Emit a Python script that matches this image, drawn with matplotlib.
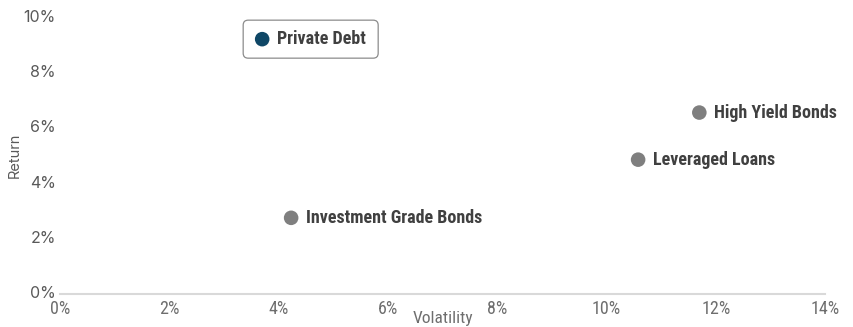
import matplotlib
matplotlib.use("Agg")
import matplotlib.pyplot as plt
import matplotlib.transforms as mtransforms
from matplotlib.patches import FancyBboxPatch
from matplotlib.ticker import FuncFormatter

names = ["Private Debt", "High Yield Bonds", "Leveraged Loans", "Investment Grade Bonds"]
volatility = [3.7, 11.7, 10.58, 4.23]
returns = [9.2, 6.55, 4.85, 2.75]
colors = ["#0f4766", "#7f7f7f", "#7f7f7f", "#7f7f7f"]

narrow = ["Roboto Condensed", "Archivo Narrow", "Sofia Sans Condensed", "DejaVu Sans"]

fig = plt.figure(figsize=(8.54, 3.27), dpi=100)
ax = fig.add_axes([60 / 854, 33 / 327, 765 / 854, 277 / 327])

ax.scatter(volatility, returns, s=110, c=colors, zorder=3, linewidths=0)
for n, x, y in zip(names, volatility, returns):
    ax.annotate(n, (x, y), xytext=(10.5, 0), textcoords="offset points",
                ha="left", va="center", fontsize=13, fontweight="bold",
                color="#404040", family=narrow)

# rounded frame around the highlighted point
tr = mtransforms.IdentityTransform() + mtransforms.ScaledTranslation(
    volatility[0], returns[0], ax.transData)
box = FancyBboxPatch((-16, -16), 129, 32, boxstyle="round,pad=3,rounding_size=5",
                     transform=tr, facecolor="none", edgecolor="#8c8c8c", lw=0.9, zorder=2)
ax.add_patch(box)

ax.set_xlim(0, 14)
ax.set_ylim(0, 10)
ax.set_xticks(range(0, 15, 2))
ax.set_yticks(range(0, 11, 2))
pct = FuncFormatter(lambda v, p: f"{v:.0f}%")
ax.xaxis.set_major_formatter(pct)
ax.yaxis.set_major_formatter(pct)

for s in ["top", "right", "left"]:
    ax.spines[s].set_visible(False)
ax.spines["bottom"].set_color("#d9d9d9")
ax.spines["bottom"].set_linewidth(1.5)
ax.tick_params(axis="both", length=0)
ax.tick_params(axis="y", pad=3, labelsize=11.5, labelcolor="#595959")
ax.tick_params(axis="x", pad=4, labelsize=13, labelcolor="#6e6e6e")
for lb in ax.get_xticklabels():
    lb.set_family(narrow)
for lb in ax.get_yticklabels():
    lb.set_family(["Inter", "DejaVu Sans"])
    lb.set_verticalalignment("center")

ax.set_xlabel("Volatility", fontsize=12.5, color="#6e6e6e", family=narrow, va="top")
ax.xaxis.set_label_coords(0.5, -0.062)
ax.set_ylabel("Return", fontsize=10.5, color="#595959", family=["Inter", "DejaVu Sans"], labelpad=1)

fig.savefig("out.png", dpi=100)
